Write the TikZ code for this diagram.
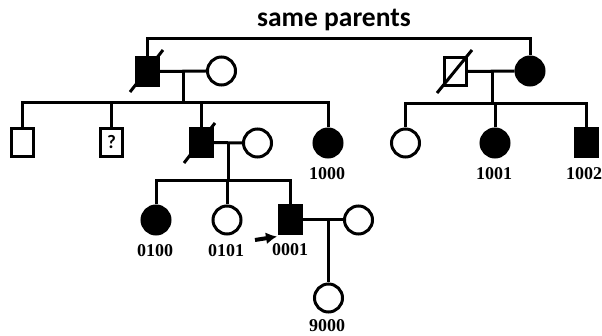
\documentclass[tikz,border=0pt]{standalone}
\usepackage{fontspec}
\setmainfont{Liberation Serif}
\newfontfamily\titlefont{Carlito}
\usetikzlibrary{arrows.meta}
\begin{document}
\begin{tikzpicture}[x=1pt,y=-1pt,
  lw/.style={line width=3pt},
  male/.style={draw,lw,rectangle,minimum width=22pt,minimum height=28pt,inner sep=0pt,fill=white},
  female/.style={draw,lw,circle,minimum size=28pt,inner sep=0pt,fill=white},
  aff/.style={fill=black},
  lbl/.style={font=\fontsize{18}{18}\selectfont\bfseries,inner sep=0pt},
  link/.style={lw},
  slash/.style={line width=3pt}
]
\useasboundingbox (0,0) rectangle (602,336);

% title
\node[font=\titlefont\fontsize{27.5}{27.5}\selectfont\bfseries,inner sep=0pt] (title) at (334,20) {same parents};

% generation I
\node[male,aff] (GF) at (147,71.5) {};
\node[female] (GM) at (221.5,71) {};
\node[male] (RM) at (455.5,71.5) {};
\node[female,aff] (RF) at (530,71) {};

% generation II
\node[male] (C1) at (22.5,142.5) {};
\node[male,font=\titlefont\fontsize{19}{19}\selectfont\bfseries] (C2) at (111.5,142.5) {?};
\node[male,aff] (C3) at (201,142.5) {};
\node[female] (C3W) at (257.5,143) {};
\node[female,aff] (C4) at (328,143) {};
\node[female] (R1) at (405.5,143) {};
\node[female,aff] (R2) at (495,143) {};
\node[male,aff] (R3) at (586,142.5) {};

% generation III
\node[female,aff] (G1) at (156,220) {};
\node[female] (G2) at (227,220) {};
\node[male,aff] (G3) at (290.5,220) {};
\node[female] (G3W) at (358.5,220) {};

% generation IV
\node[female] (H1) at (328.5,298) {};

% coordinates
\coordinate (top) at (147,39);
\coordinate (m1) at (183,71);
\coordinate (s1) at (183,103);
\coordinate (m2) at (492,71);
\coordinate (s2) at (492,104);
\coordinate (m3) at (228,143);
\coordinate (s3) at (228,181);
\coordinate (m4) at (328.5,220);

% same parents line
\draw[link] (GF.north) |- (top) -| (RF.north);

% family 1
\draw[link] (GF.east) -- (GM.west);
\draw[link] (m1) -- (s1);
\draw[link] (C1.north) |- (s1) -| (C4.north);
\draw[link] (C2.north) -- (C2.north |- s1);
\draw[link] (C3.north) -- (C3.north |- s1);

% family 2
\draw[link] (RM.east) -- (RF.west);
\draw[link] (m2) -- (s2);
\draw[link] (R1.north) |- (s2) -| (R3.north);
\draw[link] (R2.north) -- (R2.north |- s2);

% family 3
\draw[link] (C3.east) -- (C3W.west);
\draw[link] (m3) -- (s3);
\draw[link] (G1.north) |- (s3) -| (G3.north);
\draw[link] (G2.north) -- (G2.north |- s3);

% family 4
\draw[link] (G3.east) -- (G3W.west);
\draw[link] (m4) -- (H1.north);

% deceased slashes
\draw[slash] (130,92) -- (163,50);
\draw[slash] (437,93) -- (472,50);
\draw[slash] (184,163) -- (215,123);

% proband arrow
\coordinate (pa) at (255,240);
\draw[line width=4pt,-{Latex[length=11pt,width=12pt]}] (pa) -- ([xshift=-1pt,yshift=-1pt]G3.south west);

% labels
\node[lbl] (L1000) at (327,174) {1000};
\node[lbl] (L1001) at (494,174) {1001};
\node[lbl] (L1002) at (584,174) {1002};
\node[lbl] (L0100) at (155,251) {0100};
\node[lbl] (L0101) at (226,251) {0101};
\node[lbl] (L0001) at (290,250) {0001};
\node[lbl] (L9000) at (327,326) {9000};
\end{tikzpicture}
\end{document}
